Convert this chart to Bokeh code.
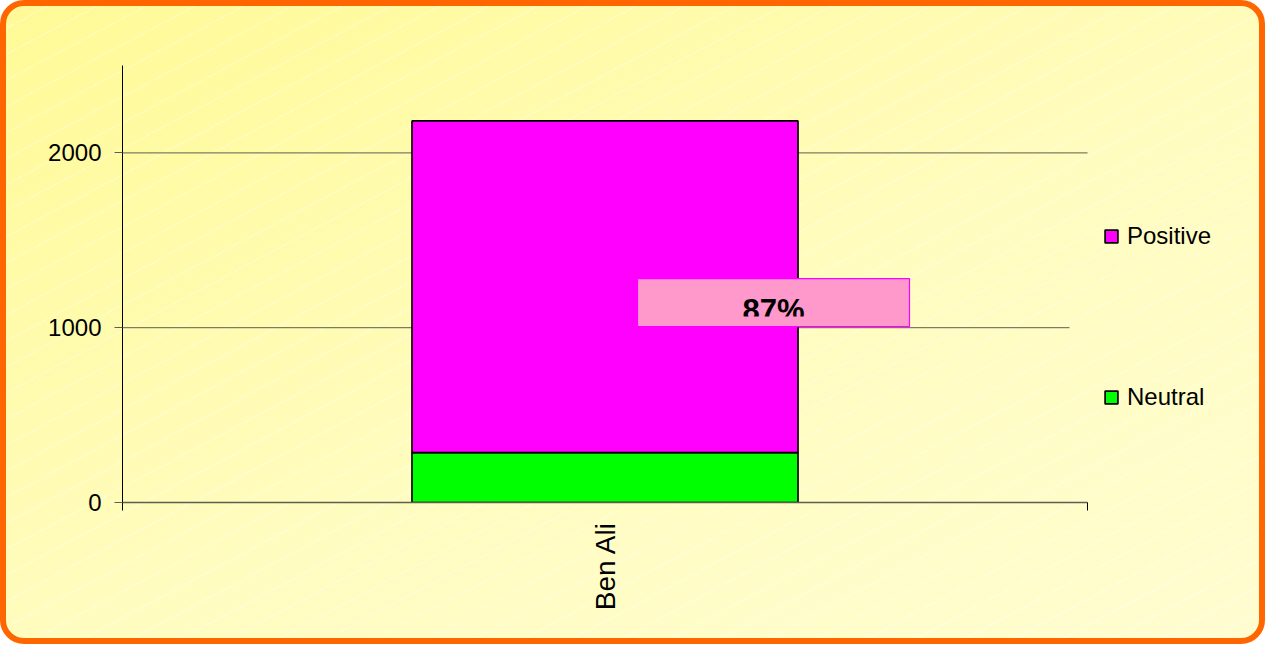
import math
from bokeh.plotting import figure
from bokeh.models import (Range1d, FixedTicker, Legend, LegendItem, ColumnDataSource)
from bokeh.core.properties import value
from bokeh.embed import file_html
from bokeh.resources import INLINE

# ---- data ----
categories = ["Ben Ali"]
neutral = [285]
positive = [1898]
series_names = ["Neutral", "Positive"]
series_colors = ["#00FF00", "#FF00FF"]
y_ticks = [0, 1000, 2000]

FONT = "Liberation Sans"
AXIS_W, FRAME_H = 965, 437        # px width of the category axis, frame height
FRAME_W = 1127                    # frame also hosts the legend area on the right
X_MAX = FRAME_W / AXIS_W
Y_MAX = 2500
UPX = Y_MAX / FRAME_H  # data units per pixel (y)
XPX = 1.0 / AXIS_W     # data units per pixel (x)

p = figure(frame_width=FRAME_W, frame_height=FRAME_H,
           x_range=Range1d(0, X_MAX), y_range=Range1d(0, Y_MAX),
           output_backend="svg", toolbar_location=None,
           min_border_left=116, min_border_right=10,
           min_border_top=59, min_border_bottom=136,
           background_fill_color=None, border_fill_color=None,
           outline_line_color=None)

p.styles = {
    "border": "6px solid #FF6600",
    "border-radius": "24px",
    "background": "repeating-linear-gradient(-28deg, rgba(255,255,255,0) 0px, rgba(255,255,255,0) 22px, rgba(255,255,255,0.35) 22px, rgba(255,255,255,0.35) 23px), linear-gradient(155deg, #FFFA96 0%, #FFFCC0 55%, #FFFDD0 100%)",
}

# gridlines (only across the category axis)
p.xgrid.visible = False
p.ygrid.visible = False
grid_vals = [t for t in y_ticks if t > 0]
grid_ends = [1 - 18 * XPX, 1]
p.segment(x0=[0] * len(grid_vals), x1=grid_ends, y0=grid_vals, y1=grid_vals,
          line_color="#5e5e4e", line_width=1)

x_pos = [0.5]
src = ColumnDataSource(dict(x=x_pos, Neutral=neutral, Positive=positive))
rs = p.vbar_stack(series_names, x="x", width=0.4, source=src,
                  fill_color=series_colors, line_color="black", line_width=1.7)

# y axis
ya = p.yaxis[0]
ya.ticker = FixedTicker(ticks=y_ticks, minor_ticks=[])
ya.axis_line_color = "black"
ya.major_tick_out = 8
ya.major_tick_in = 0
ya.major_tick_line_color = "#5e5e4e"
ya.major_label_standoff = 13
ya.major_label_text_font = FONT
ya.major_label_text_font_size = "24px"
ya.major_label_text_color = "black"

# x axis
xa = p.xaxis[0]
xa.bounds = (0, 1)
xa.ticker = FixedTicker(ticks=x_pos, minor_ticks=[0, 1])
xa.major_label_overrides = {x_pos[0]: categories[0]}
xa.major_tick_out = 0
xa.major_tick_in = 0
xa.minor_tick_out = 8
xa.minor_tick_in = 0
xa.minor_tick_line_color = "black"
xa.axis_line_color = "#5e5e4e"
xa.axis_line_width = 1.5
xa.major_label_orientation = math.pi / 2
xa.major_label_standoff = 11
xa.major_label_text_font = FONT
xa.major_label_text_font_size = "28px"
xa.major_label_text_color = "black"

# legend (inside the widened frame, right of the axis)
legend = Legend(items=[LegendItem(label=series_names[1], renderers=[rs[1]]),
                       LegendItem(label=series_names[0], renderers=[rs[0]])],
                location=(981, 91), orientation="vertical",
                glyph_width=16, glyph_height=16, label_height=24,
                label_standoff=8, spacing=133, padding=0, margin=0,
                border_line_color=None, background_fill_color=None,
                label_text_font=FONT, label_text_font_size="24px",
                label_text_color="black")
p.add_layout(legend)

# data label (percentage of positive)
pct = round(100 * positive[0] / (positive[0] + neutral[0]))
lab_cx = 0.6746          # label centre (x, data)
lab_cy = 1144            # label centre (y, data)
p.quad(left=[lab_cx - 136 * XPX], right=[lab_cx + 136 * XPX],
       bottom=[lab_cy - 24 * UPX], top=[lab_cy + 24 * UPX],
       fill_color="#FF99CC", line_color="#FF00FF", line_width=1.2)
p.text(x=[lab_cx], y=[lab_cy - 8 * UPX], text=[f"{pct}%"],
       text_align="center", text_baseline="alphabetic",
       text_font=value(FONT), text_font_style="bold",
       text_font_size="31px", text_color="black")
# clipped lower part of the label text
p.quad(left=[lab_cx - 38 * XPX], right=[lab_cx + 38 * XPX],
       bottom=[lab_cy - 23 * UPX], top=[lab_cy - 14 * UPX],
       fill_color="#FF99CC", line_color=None)

open("out.html", "w").write(file_html(p, INLINE))
